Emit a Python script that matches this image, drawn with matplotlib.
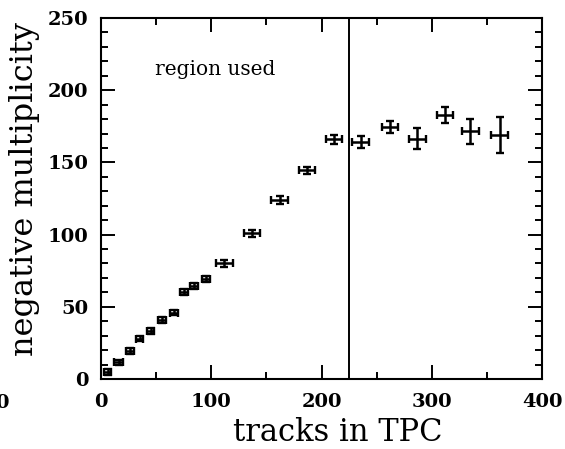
import matplotlib.pyplot as plt
from matplotlib.ticker import MultipleLocator

# negative multiplicity vs. number of TPC tracks
tracks = [6, 16, 26, 35, 45, 55.5, 66, 75, 84.5, 95,
          112, 137, 162, 187, 211.5, 235.5, 262, 287, 312, 335, 361.5]
mult = [5, 11.5, 19.5, 28, 33, 41, 46, 60.5, 64.5, 69,
        80, 101, 124, 144.5, 166, 164, 174.5, 166.5, 183, 171.5, 169]
tracks_err = [3, 4, 3.5, 3.5, 3.5, 3.5, 3.5, 3.5, 3.5, 3.5,
              7.5, 7.5, 7.5, 7.5, 7.5, 7.5, 7.5, 7.5, 7.5, 7.5, 7.5]
mult_err = [2, 2, 2, 2, 2, 2, 2, 2, 2, 2,
            2.5, 2.5, 2.5, 2.5, 3, 4, 4, 7, 5.5, 8.5, 12.5]
cut = 225

plt.rcParams['font.family'] = 'DejaVu Serif'

fig = plt.figure(figsize=(5.65, 4.49), dpi=100)
ax = fig.add_axes([0.1788, 0.1559, 0.7805, 0.804])

ax.errorbar(tracks, mult, xerr=tracks_err, yerr=mult_err, fmt='none',
            ecolor='black', elinewidth=1.8, capsize=2.6, capthick=1.7)
ax.axvline(cut, color='black', lw=1.4)

ax.set_xlim(0, 400)
ax.set_ylim(0, 250)
ax.xaxis.set_major_locator(MultipleLocator(100))
ax.xaxis.set_minor_locator(MultipleLocator(50))
ax.yaxis.set_major_locator(MultipleLocator(50))
ax.yaxis.set_minor_locator(MultipleLocator(10))
ax.tick_params(which='both', direction='in', top=True, right=True,
               width=1.4, labelsize=14)
ax.tick_params(axis='x', pad=10)
ax.tick_params(axis='y', pad=9)
ax.tick_params(which='major', length=10)
ax.tick_params(which='minor', length=5)
for lbl in ax.get_xticklabels() + ax.get_yticklabels():
    lbl.set_fontweight('bold')
for s in ax.spines.values():
    s.set_linewidth(1.5)

ax.text(49, 214, 'region used', fontsize=14.5, va='center')
ax.set_xlabel('tracks in TPC', fontsize=22)
ax.set_ylabel('negative multiplicity', fontsize=23)
ax.xaxis.set_label_coords(0.536, -0.105)
ax.yaxis.set_label_coords(-0.138, 0.525)

# leftover label from the neighbouring panel
fig.text(0.016, 0.103, '0', fontsize=14, fontweight='bold',
         ha='right', va='center')

fig.savefig('out.png', dpi=100)
